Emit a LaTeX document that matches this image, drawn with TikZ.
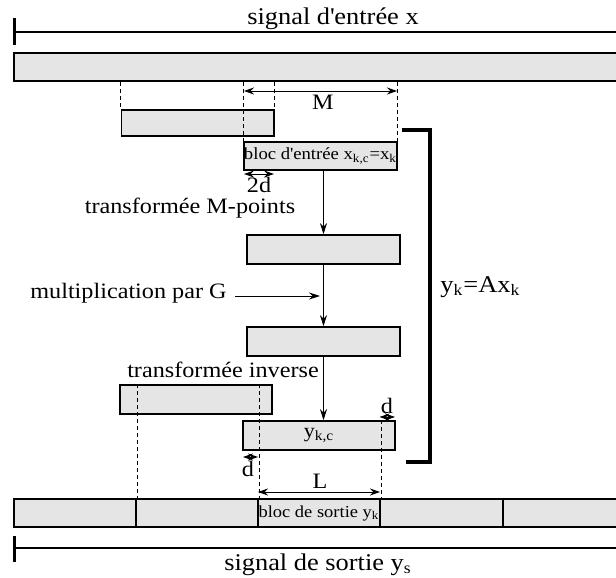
\documentclass[tikz,border=0pt]{standalone}
\usepackage{fontspec}
\setmainfont{Liberation Serif}[FakeStretch=1.1]
\usetikzlibrary{arrows.meta}

\begin{document}
\begin{tikzpicture}[x=0.5pt,y=-0.5pt,font=\fontsize{11}{13}\selectfont,
  bar/.style={draw,line width=1.4pt,fill=gray!20,inner sep=0pt,minimum height=14pt},
  blk/.style={draw,line width=0.8pt,fill=gray!20,inner sep=0pt,minimum width=76.5pt,minimum height=14.5pt,font=\fontsize{8.5}{10}\selectfont},
  guide/.style={line width=0.4pt,dash pattern=on 2pt off 1.5pt},
  flow/.style={line width=0.5pt,-{Stealth[length=5.5pt,width=3.5pt]}},
  dim/.style={line width=0.5pt,{Stealth[length=5pt,width=3.5pt]}-{Stealth[length=5pt,width=3.5pt]}},
  lbl/.style={inner sep=0pt,anchor=base}]
\useasboundingbox (0,0) rectangle (616,578);

% signal d'entree
\draw[line width=1.25pt] (14.7,18) -- (14.7,45);
\coordinate (inL) at (14.7,32);
\coordinate (inR) at (625,32);
\draw[line width=1.25pt] (inL) -- (inR);
\node[lbl,font=\fontsize{12}{14}\selectfont] (ttlin) at (333,25) {signal d\textquotesingle entrée x};
\draw (319.5,67) node[bar,minimum width=305.5pt](inbar) {};

% blocs
\draw (197.75,123) node[blk,minimum width=76.25pt,minimum height=13pt](win1) {};
\draw (320.5,156) node[blk,minimum height=14pt](win2) {bloc d\textquotesingle entrée x\textsubscript{k,c}=x\textsubscript{k}};
\draw (323.5,249.5) node[blk](spec) {};
\draw (323.5,341.5) node[blk](prod) {};
\draw (196,399.5) node[blk,minimum width=76pt](prev) {};
\draw (319,435.5) node[blk,minimum width=76pt,font=\fontsize{10}{11}\selectfont](yblk) {y\textsubscript{k,c}};

% signal de sortie
\draw (75,513) node[bar,minimum width=61pt](out1) {};
\draw (197,513) node[bar,minimum width=61pt](out2) {};
\draw (319,513) node[bar,minimum width=61pt,font=\fontsize{8.4}{10}\selectfont](out3) {bloc de sortie y\textsubscript{k}};
\draw (441.5,513) node[bar,minimum width=61.5pt](out4) {};
\draw (564,513) node[bar,minimum width=61pt](out5) {};
\draw[line width=1.25pt] (14.7,536) -- (14.7,562);
\coordinate (outL) at (14.7,548);
\coordinate (outR) at (625,548);
\draw[line width=1.25pt] (outL) -- (outR);
\node[lbl,font=\fontsize{12}{14}\selectfont] (ttlout) at (318,570) {signal de sortie y\textsubscript{s}};

% pointilles
\draw[guide] (win1.north west |- inbar.south) -- (win1.north west);
\draw[guide] (win1.north east |- inbar.south) -- (win1.north east);
\draw[guide] (win2.north west |- inbar.south) -- (win2.north west);
\draw[guide] (win2.north east |- inbar.south) -- (win2.north east);
\draw[guide] (prev.north -| out1.east) -- (out1.north east);
\draw[guide] (prev.north -| out2.east) -- (out2.north east);
\draw[guide] (yblk.north -| out3.east) -- (out3.north east);

% cotes
\coordinate (mA) at (244,91);
\coordinate (mB) at (397,91);
\draw[dim] (mA) -- (mB);
\node[lbl] (lblM) at (323,109) {M};
\coordinate (ovA) at (244,174);
\coordinate (ovB) at (274,174);
\draw[dim] (ovA) -- (ovB);
\node[lbl] (lbl2d) at (259,192) {2d};
\coordinate (dA) at (379.5,417);
\coordinate (dB) at (395,417);
\draw[dim] (dA) -- (dB);
\node[lbl] (lbld1) at (387,413) {d};
\coordinate (dC) at (243,457);
\coordinate (dD) at (258,457);
\draw[dim] (dC) -- (dD);
\node[lbl] (lbld2) at (248,476) {d};
\coordinate (lA) at (258,492);
\coordinate (lB) at (380,492);
\draw[dim] (lA) -- (lB);
\node[lbl] (lblL) at (320,488) {L};

% traitement
\node[lbl] (fft) at (190,213) {transformée M-points};
\draw[flow] (spec.north |- win2.south) -- (spec.north);
\node[lbl,anchor=base east] (mult) at (227,298) {multiplication par G};
\coordinate (gin) at (320,296);
\draw[flow] ([xshift=4pt]mult.east |- gin) -- (gin);
\draw[flow] (spec.south) -- (prod.north);
\node[lbl] (ifft) at (223,377) {transformée inverse};
\draw[flow] (prod.south) -- (prod.south |- yblk.north);

% crochet
\draw[line width=2pt] (402,130) -- (430,130) -- (430,462) -- (406,462);
\node[lbl,anchor=base west,font=\fontsize{12}{14}\selectfont] (eqA) at (440,292) {y\textsubscript{k}=Ax\textsubscript{k}};
\end{tikzpicture}
\end{document}
